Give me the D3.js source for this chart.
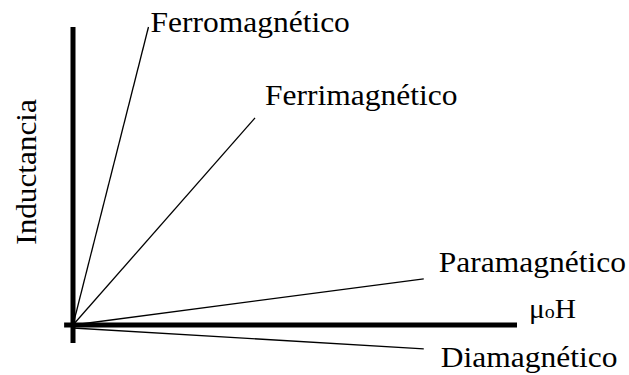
<!DOCTYPE html>
<html>
<head>
<meta charset="utf-8">
<script src="https://cdn.jsdelivr.net/npm/d3@7"></script>
<style>
  body { margin: 0; background: #fff; }
  text { font-family: "Times New Roman", "Liberation Serif", serif; fill: #000; }
</style>
</head>
<body>
<div class="chart"></div>
<script>
// Materials and where each line ends (field, inductance) in arbitrary units
const materials = ["Ferromagnético", "Ferrimagnético", "Paramagnético", "Diamagnético"];
const fieldEnd = [17, 41, 79, 79];
const inductEnd = [100, 69.5, 15.5, -8];
const xLabel = "μ";
const xLabelSub = "o";
const xLabelTail = "H";
const yLabel = "Inductancia";

const width = 629;
const height = 375;

const svg = d3.select(".chart").append("svg")
  .attr("width", width)
  .attr("height", height);

// scales - origin sits near the lower left
const x = d3.scaleLinear().domain([0, 100]).range([73, 517]);
const y = d3.scaleLinear().domain([0, 100]).range([325, 27]);

// material lines from the origin
svg.append("g")
  .selectAll("line")
  .data(materials)
  .enter()
  .append("line")
  .attr("x1", x(0))
  .attr("y1", (d, i) => i === 3 ? y(-1) : y(0))
  .attr("x2", (d, i) => x(fieldEnd[i]))
  .attr("y2", (d, i) => y(inductEnd[i]))
  .attr("stroke", "#000")
  .attr("stroke-width", 1.3);

// thick axes
svg.append("line")
  .attr("x1", x(-2)).attr("x2", x(100))
  .attr("y1", y(0)).attr("y2", y(0))
  .attr("stroke", "#000")
  .attr("stroke-width", 5);

svg.append("line")
  .attr("x1", x(0)).attr("x2", x(0))
  .attr("y1", y(100)).attr("y2", y(-6))
  .attr("stroke", "#000")
  .attr("stroke-width", 5);

// labels placed next to the end of each line (slightly stretched like the original)
const labelDx = [2, 10, 15, 17];
const labelDy = [5, -13, -7, 18];

svg.append("g")
  .selectAll("text")
  .data(materials)
  .enter()
  .append("text")
  .attr("transform", (d, i) =>
    `translate(${x(fieldEnd[i]) + labelDx[i]},${y(inductEnd[i]) + labelDy[i]}) scale(1.05,1)`)
  .style("font-size", "30px")
  .text(d => d);

// x axis label: μoH with a small o
const xl = svg.append("text")
  .attr("transform", "translate(529,318) scale(1.05,1)")
  .style("font-size", "28px");
xl.append("tspan").text(xLabel);
xl.append("tspan").style("font-size", "19px").text(xLabelSub);
xl.append("tspan").text(xLabelTail);

// y axis label
svg.append("text")
  .attr("transform", "translate(36,172) rotate(-90) scale(1.04,1)")
  .attr("text-anchor", "middle")
  .style("font-size", "30px")
  .text(yLabel);
</script>
</body>
</html>
